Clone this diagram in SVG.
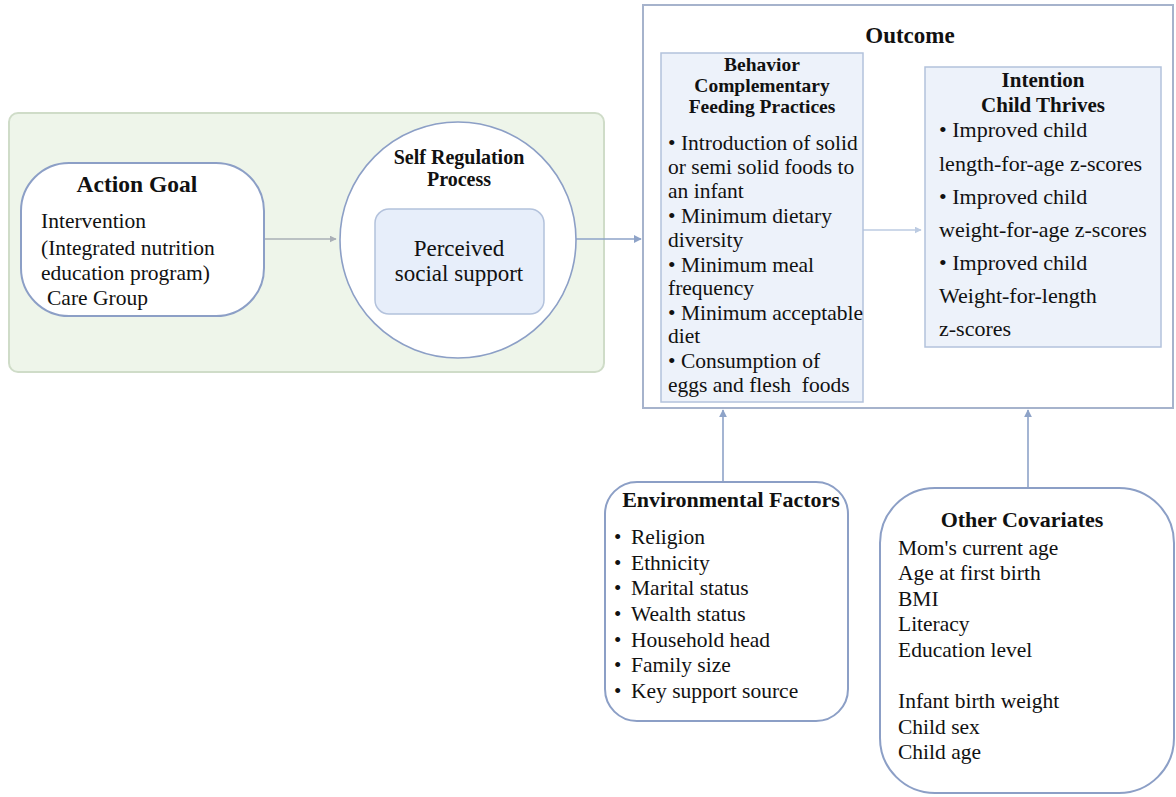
<svg xmlns="http://www.w3.org/2000/svg" width="1176" height="797" viewBox="0 0 1176 797">
<defs>
<style>
text{font-family:"Liberation Serif","Times New Roman",serif;fill:#111}
.t{font-weight:bold;text-anchor:middle}
.b{font-size:21.5px}
.node{fill:#fff;stroke:#8c9fc6;stroke-width:2}
.inner{fill:#edf2fa;stroke:#b3c2dc;stroke-width:1.5}
.conn{fill:none;stroke-width:1.6}
</style>
<marker id="ahG" viewBox="0 0 10 10" refX="9" refY="5" markerWidth="7" markerHeight="7" markerUnits="userSpaceOnUse" orient="auto"><path d="M0,0L10,5L0,10z" fill="#a9afb6"/></marker>
<marker id="ahB" viewBox="0 0 10 10" refX="9" refY="5" markerWidth="8" markerHeight="8" markerUnits="userSpaceOnUse" orient="auto"><path d="M0,0L10,5L0,10z" fill="#8ea3c8"/></marker>
<marker id="ahL" viewBox="0 0 10 10" refX="9" refY="5" markerWidth="7" markerHeight="7" markerUnits="userSpaceOnUse" orient="auto"><path d="M0,0L10,5L0,10z" fill="#bccbe2"/></marker>
</defs>
<rect width="1176" height="797" fill="#fff"/>

<g id="container">
<rect x="9" y="113" width="595" height="259" rx="9" fill="#eef5ea" stroke="#cfdcc8" stroke-width="2"/>
</g>

<g id="outcome">
<rect x="643" y="5" width="530" height="403" fill="#fff" stroke="#a6b3cc" stroke-width="2"/>
<text class="t" x="910" y="43" font-size="23">Outcome</text>
</g>

<g id="connectors">
<line class="conn" x1="264" y1="239" x2="336" y2="239" stroke="#a9afb6" marker-end="url(#ahG)"/>
<line class="conn" x1="576" y1="239" x2="641" y2="239" stroke="#8ea3c8" marker-end="url(#ahB)"/>
<line class="conn" x1="863" y1="230" x2="921" y2="230" stroke="#bccbe2" marker-end="url(#ahL)"/>
<line class="conn" x1="723" y1="482" x2="723" y2="410" stroke="#8ea3c8" marker-end="url(#ahB)"/>
<line class="conn" x1="1028" y1="488" x2="1028" y2="410" stroke="#8ea3c8" marker-end="url(#ahB)"/>
</g>

<g id="action-goal">
<rect class="node" x="21" y="163" width="243" height="153" rx="48"/>
<text class="t" x="137" y="192" font-size="23.5">Action Goal</text>
<text class="b" x="41" y="228">Intervention</text>
<text class="b" x="41" y="255">(Integrated nutrition</text>
<text class="b" x="41" y="280">education program)</text>
<text class="b" x="47" y="305">Care Group</text>
</g>

<g id="self-regulation">
<circle cx="458" cy="240" r="118" fill="#fff" stroke="#8c9fc6" stroke-width="1.6"/>
<text class="t" x="459" y="164" font-size="20">Self Regulation</text>
<text class="t" x="459" y="186" font-size="20">Process</text>
<rect x="375" y="209" width="169" height="105" rx="14" fill="#e7eefa" stroke="#b3c2dc" stroke-width="1.5"/>
<text x="459" y="256" font-size="23" text-anchor="middle">Perceived</text>
<text x="459" y="281" font-size="23" text-anchor="middle">social support</text>
</g>

<g id="behavior">
<rect class="inner" x="661" y="53" width="202" height="349"/>
<text class="t" x="762" y="71" font-size="19.5">Behavior</text>
<text class="t" x="762" y="92" font-size="19.5">Complementary</text>
<text class="t" x="762" y="113" font-size="19.5">Feeding Practices</text>
<text class="b" x="668" y="150">• Introduction of solid</text>
<text class="b" x="668" y="174">or semi solid foods to</text>
<text class="b" x="668" y="198">an infant</text>
<text class="b" x="668" y="223">• Minimum dietary</text>
<text class="b" x="668" y="247">diversity</text>
<text class="b" x="668" y="272">• Minimum meal</text>
<text class="b" x="668" y="295">frequency</text>
<text class="b" x="668" y="320">• Minimum acceptable</text>
<text class="b" x="668" y="343">diet</text>
<text class="b" x="668" y="368">• Consumption of</text>
<text class="b" x="668" y="392" xml:space="preserve">eggs and flesh  foods</text>
</g>

<g id="intention">
<rect class="inner" x="925" y="67" width="236" height="280"/>
<text class="t" x="1043" y="87" font-size="21">Intention</text>
<text class="t" x="1043" y="112" font-size="21">Child Thrives</text>
<text x="939" y="137" font-size="22">• Improved child</text>
<text x="939" y="171" font-size="22">length-for-age z-scores</text>
<text x="939" y="204" font-size="22">• Improved child</text>
<text x="939" y="237" font-size="22">weight-for-age z-scores</text>
<text x="939" y="270" font-size="22">• Improved child</text>
<text x="939" y="303" font-size="22">Weight-for-length</text>
<text x="939" y="336" font-size="22">z-scores</text>
</g>

<g id="environmental-factors">
<rect class="node" x="605" y="482" width="243" height="239" rx="32"/>
<text class="t" x="731" y="507" font-size="22">Environmental Factors</text>
<text x="614" y="544" font-size="21">•</text><text class="b" x="631" y="544">Religion</text>
<text x="614" y="570" font-size="21">•</text><text class="b" x="631" y="570">Ethnicity</text>
<text x="614" y="595" font-size="21">•</text><text class="b" x="631" y="595">Marital status</text>
<text x="614" y="621" font-size="21">•</text><text class="b" x="631" y="621">Wealth status</text>
<text x="614" y="647" font-size="21">•</text><text class="b" x="631" y="647">Household head</text>
<text x="614" y="672" font-size="21">•</text><text class="b" x="631" y="672">Family size</text>
<text x="614" y="698" font-size="21">•</text><text class="b" x="631" y="698">Key support source</text>
</g>

<g id="other-covariates">
<rect class="node" x="880" y="488" width="294" height="305" rx="55"/>
<text class="t" x="1022" y="527" font-size="22">Other Covariates</text>
<text class="b" x="898" y="555">Mom's current age</text>
<text class="b" x="898" y="580">Age at first birth</text>
<text class="b" x="898" y="606">BMI</text>
<text class="b" x="898" y="631">Literacy</text>
<text class="b" x="898" y="657">Education level</text>
<text class="b" x="898" y="708">Infant birth weight</text>
<text class="b" x="898" y="734">Child sex</text>
<text class="b" x="898" y="759">Child age</text>
</g>
</svg>
